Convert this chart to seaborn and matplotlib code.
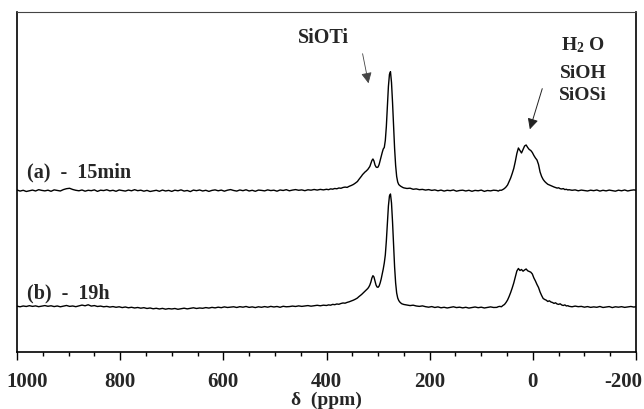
import numpy as np
import pandas as pd
import seaborn as sns
import matplotlib.pyplot as plt
from matplotlib.ticker import MultipleLocator
from matplotlib.transforms import ScaledTranslation

# chemical shift grid (ppm), denser around the peaks
ppm = np.concatenate([np.arange(1000, 400, -6), np.arange(400, 340, -4),
                      np.arange(340, 250, -2), np.arange(250, 70, -6),
                      np.arange(70, -70, -3), np.arange(-70, -208, -6)])

# (a) 15 min, intensity above its own baseline
a_base_left = [0.5, -0.6, 0.2, -1.0, -0.3, 0.4, -0.5, 0.8, 0.1, -0.4,
               0.3, -0.8, 0.6, 0.0, -0.5, 0.9, 1.8, 2.2, 1.0, 0.2,
               -0.3, 0.5, -0.7, 0.2, -0.2, 0.6, -0.9, 0.3, -0.1, 0.7,
               -0.4, 0.2, -0.8, 0.5, 0.0, -0.6, 0.4, -0.3, 0.8, -0.2,
               0.3, -0.7, 0.1, -1.0, -0.4, 0.2, -0.8, 0.4, -0.5, 0.1,
               -0.9, 0.3, -0.3, 0.6, -0.6, 0.0, -1.1, 0.4, -0.2, 0.5,
               -0.5, 0.2, -0.9, 0.1, 0.6, -0.3, 0.4, -0.7, 0.3, 0.9,
               0.0, -0.6, 0.5, -0.2, 0.7, -0.5, 0.2, -0.8, 0.4, 0.1,
               -0.4, 0.6, -0.1, 0.3, -0.7, 0.5, 0.0, 0.8, -0.3, 0.4,
               0.9, 0.2, 0.6, -0.2, 0.7, 0.3, 1.0, 0.4, 1.1, 0.6]
a_rise = [1.2, 0.8, 1.6, 1.3, 2.0, 1.7, 2.5, 2.2, 3.0, 3.4, 3.1, 4.2, 5.0, 6.0, 7.4]
a_siOTi = [9.0, 10.5, 11.8, 13.0, 14.5, 16.0, 17.0, 18.2, 19.0, 20.0,
           21.0, 22.5, 24.0, 27.0, 30.0, 31.5, 29.5, 25.5, 23.5, 23.0,
           23.5, 26.0, 30.0, 34.0, 38.0, 41.5, 43.0, 50.0, 64.0, 84.0,
           104.0, 116.0, 118.8, 108.0, 88.0, 64.0, 42.0, 25.0, 14.0, 8.5,
           6.0, 5.0, 4.2, 3.6, 3.0]
a_base_mid = [2.6, 2.0, 2.3, 1.2, 1.6, 0.8, 1.1, 0.4, 0.9, 0.1,
              0.6, -0.3, 0.4, -0.6, 0.2, -0.2, 0.5, -0.7, 0.0, 0.3,
              -0.5, 0.2, -0.8, 0.1, -0.3, 0.4, -0.9, 0.0, -0.4, 0.3]
a_water = [0.0, -0.6, 0.3, 0.2, 1.0, 2.0, 3.5, 5.5, 9.0, 12.5,
           17.0, 22.0, 29.0, 37.0, 42.5, 40.0, 37.5, 41.0, 44.5, 45.5,
           43.0, 41.0, 40.0, 38.0, 35.0, 32.5, 30.5, 26.0, 18.5, 14.0,
           11.0, 9.0, 7.5, 6.2, 5.5, 4.8, 4.0, 3.5, 3.0, 2.4,
           2.7, 1.8, 1.5, 1.9, 0.9, 1.2, 0.5]
a_base_right = [0.8, 0.2, 0.6, -0.3, 0.4, 0.0, -0.5, 0.3, -0.2, 0.5, -0.6, 0.2,
                -0.4, 0.4, -0.1, -0.7, 0.3, -0.3, 0.5, -0.5, 0.2, 0.6, 0.0]

# (b) 19 h
b_base_left = [0.8, 0.2, 1.0, 0.5, 1.3, 0.6, 1.1, 0.3, 0.9, 1.4,
               0.7, 1.2, 0.4, 1.0, 0.2, 0.8, 1.5, 0.6, 1.0, 0.3,
               1.1, 1.9, 1.2, 2.2, 0.9, 1.4, 0.5, 0.9, 0.2, 0.6,
               -0.1, 0.4, -0.3, 0.2, -0.6, 0.0, -0.8, -0.3, -1.0, -0.5,
               -1.2, -0.7, -1.5, -1.0, -1.8, -1.3, -2.0, -1.4, -2.2, -1.6,
               -2.0, -1.5, -2.3, -1.7, -1.2, -1.9, -1.4, -0.8, -1.5, -1.0,
               -1.3, -0.6, -1.1, -0.4, -0.9, -0.2, -0.7, 0.1, -0.5, -0.1,
               0.2, -0.5, 0.3, -0.2, 0.5, -0.4, 0.1, -0.6, 0.2, -0.3,
               0.4, -0.2, 0.6, 0.0, 0.5, -0.3, 0.7, 0.2, 0.4, 0.9,
               0.5, 1.1, 0.6, 1.0, 1.4, 0.8, 1.3, 1.7, 1.2, 1.8]
b_rise = [1.5, 2.1, 1.8, 2.6, 2.3, 3.0, 2.7, 3.5, 4.0, 3.8, 4.6, 5.2, 6.0, 6.8, 7.8]
b_siOTi = [9.0, 10.0, 10.8, 11.5, 12.5, 13.5, 14.5, 15.5, 16.5, 17.5,
           18.5, 20.0, 22.0, 25.0, 29.0, 31.3, 30.0, 26.0, 22.0, 20.0,
           19.7, 21.0, 24.0, 28.0, 33.0, 38.0, 44.0, 52.0, 66.0, 84.0,
           101.0, 111.0, 113.0, 104.0, 85.0, 62.0, 40.0, 24.0, 14.0, 9.0,
           6.5, 5.0, 4.0, 3.2, 2.8]
b_base_mid = [2.5, 2.0, 1.4, 1.8, 1.0, 0.6, 1.1, 0.3, -0.2, 0.4,
              -0.5, 0.1, -0.8, -0.3, -1.0, -0.4, 0.2, -0.6, -0.2, -0.9,
              -0.3, -1.1, -0.5, 0.0, -0.7, -0.2, -1.0, -0.4, 0.1, -0.5]
b_water = [-0.4, 0.3, 0.6, 0.2, 1.5, 2.5, 4.5, 7.0, 10.5, 14.5,
           19.0, 24.0, 30.0, 36.0, 38.5, 36.5, 37.5, 35.8, 37.0, 38.0,
           36.2, 35.5, 34.8, 33.0, 29.0, 26.0, 22.5, 19.5, 15.0, 11.5,
           8.5, 7.5, 6.8, 5.5, 6.2, 5.0, 4.5, 3.6, 4.2, 3.0,
           2.6, 3.2, 2.0, 1.5, 2.1, 1.0, 1.3]
b_base_right = [0.7, 0.2, 0.9, 0.3, 0.6, -0.2, 0.4, -0.4, 0.1, -0.3, 0.5, -0.5,
                0.0, 0.4, -0.6, 0.2, -0.2, 0.3, -0.4, 0.1, 0.5, -0.1, 0.6]

offset_a = 161.2
offset_b = 44.7

spec_a = np.array(a_base_left + a_rise + a_siOTi + a_base_mid + a_water + a_base_right)
spec_b = np.array(b_base_left + b_rise + b_siOTi + b_base_mid + b_water + b_base_right)

df = pd.concat([
    pd.DataFrame({'ppm': ppm, 'signal': spec_a + offset_a, 'sample': 'a'}),
    pd.DataFrame({'ppm': ppm, 'signal': spec_b + offset_b, 'sample': 'b'}),
])

sns.set_theme(style="white")
plt.rcParams['font.family'] = ['Liberation Serif', 'DejaVu Serif']
plt.rcParams['font.weight'] = 'bold'
plt.rcParams['axes.unicode_minus'] = False
plt.rcParams['mathtext.fontset'] = 'custom'
plt.rcParams['mathtext.rm'] = 'Liberation Serif:bold'
plt.rcParams['mathtext.it'] = 'Liberation Serif:bold'

fig = plt.figure(figsize=(6.44, 4.10), dpi=100)
ax = fig.add_axes([0.0264, 0.1398, 0.9612, 0.8278])

sns.lineplot(data=df, x='ppm', y='signal', hue='sample', units='sample',
             palette={'a': 'black', 'b': 'black'}, estimator=None, sort=False,
             linewidth=1.0, legend=False, ax=ax)

ax.set_xlim(1000, -200)
ax.set_ylim(0, 339.4)
ax.set_yticks([])
ax.set_ylabel('')
ax.xaxis.set_major_locator(MultipleLocator(200))
ax.xaxis.set_minor_locator(MultipleLocator(50))
ax.tick_params(axis='x', which='both', bottom=True, direction='out', color='black',
               width=1.0, labelsize=15, pad=8)
ax.tick_params(axis='x', which='major', length=6)
ax.tick_params(axis='x', which='minor', length=3)
ax.set_xticks([1000, 800, 600, 400, 200, 0, -200])
ax.set_xticklabels(['1000', '800', '600', '400', '200', '0', '-200'], fontweight='bold')
# keep the end labels inside the picture, as in the original figure
labels = ax.get_xticklabels()
labels[0].set_transform(labels[0].get_transform() + ScaledTranslation(0.10, 0, fig.dpi_scale_trans))
labels[-1].set_transform(labels[-1].get_transform() + ScaledTranslation(-0.13, 0, fig.dpi_scale_trans))
ax.set_xlabel('δ  (ppm)', fontsize=14, fontweight='bold', labelpad=0)

for side in ['left', 'right', 'bottom']:
    ax.spines[side].set_color('black')
    ax.spines[side].set_linewidth(1.2)
ax.spines['top'].set_color('#444444')
ax.spines['top'].set_linewidth(0.8)

ax.text(980.6, 174.7, '(a)  -  15min', fontsize=14.5, fontweight='bold', ha='left', va='baseline')
ax.text(980.6, 53.7, '(b)  -  19h', fontsize=14.5, fontweight='bold', ha='left', va='baseline')
ax.text(406.7, 309.7, 'SiOTi', fontsize=14.5, fontweight='bold', ha='center', va='baseline')
ax.text(-97.3, 302.7, 'H$_2$ O', fontsize=14, fontweight='bold', ha='center', va='baseline')
ax.text(-97.3, 274.7, 'SiOH', fontsize=14, fontweight='bold', ha='center', va='baseline')
ax.text(-97.3, 252.7, 'SiOSi', fontsize=14, fontweight='bold', ha='center', va='baseline')

ax.annotate('', xy=(317.6, 265.7), xytext=(331.1, 300.7),
            arrowprops=dict(arrowstyle='-|>', color='#444444', lw=0.6, mutation_scale=16))
ax.annotate('', xy=(7.4, 219.7), xytext=(-19.8, 265.7),
            arrowprops=dict(arrowstyle='-|>', color='#222222', lw=0.7, mutation_scale=16))

fig.savefig('out.png', dpi=100)
